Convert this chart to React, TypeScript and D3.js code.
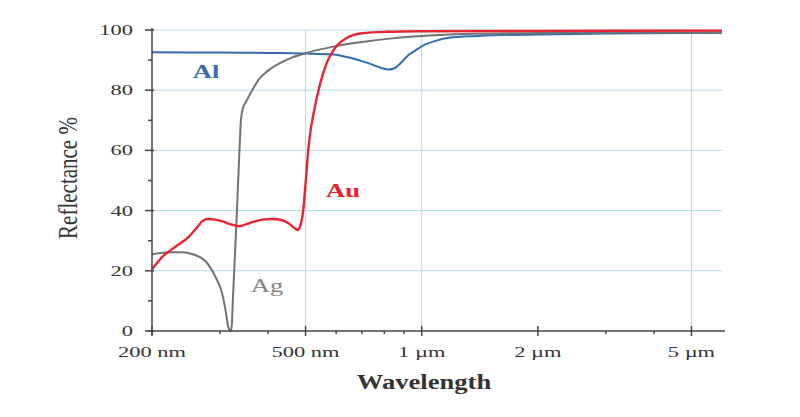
import React from "react";
import * as d3 from "d3";

// reflectance (%) of bare metals vs wavelength (nm)
const agWavelength = [200, 210, 225, 240, 254, 276, 292, 304, 311, 315, 318, 320, 322, 324, 328, 332, 337, 340, 344, 350, 362, 378, 400, 445, 500, 586, 700, 850, 1000, 1300, 2000, 3000, 6000];
const agReflectance = [25.4, 25.9, 26.2, 26.2, 25.6, 23, 18, 12.5, 6, 1.5, 0.2, 0, 2, 10, 25, 40, 60, 70, 74, 76, 79.5, 83.5, 86.5, 90, 92.3, 94.4, 96, 97.3, 98, 98.7, 99, 99.2, 99.2];

const auWavelength = [200, 213, 230, 249, 262, 270, 280, 292, 305, 317, 336, 357, 386, 410, 435, 455, 468, 478, 483, 488, 493, 500, 508, 515, 523, 545, 567, 592, 636, 700, 808, 1000, 2000, 6000];
const auReflectance = [20.5, 24.7, 28, 31.3, 34.5, 36.5, 37.2, 37, 36.4, 35.6, 34.8, 35.8, 37, 37.2, 36.8, 35.5, 34.2, 33.5, 34.5, 36.5, 40, 49, 60, 66.5, 71.5, 82, 89, 93.5, 97.2, 98.9, 99.4, 99.6, 99.7, 99.8];

const alWavelength = [200, 300, 400, 500, 590, 660, 730, 790, 822, 850, 872, 924, 982, 1000, 1088, 1176, 1400, 1586, 2000, 3000, 6000];
const alReflectance = [92.6, 92.5, 92.4, 92.2, 91.9, 90.6, 88.9, 87.3, 86.9, 87.3, 88.4, 91.7, 93.9, 94.6, 96.4, 97.4, 98.0, 98.3, 98.5, 98.8, 99.1];

const xMajorTicks = [200, 500, 1000, 2000, 5000];
const xMajorLabels = ["200 nm", "500 nm", "1 µm", "2 µm", "5 µm"];
const xMinorTicks = [300, 400, 600, 700, 800, 900, 3000, 4000];
const xGridTicks = [500, 1000, 5000];
const yMajorTicks = [0, 20, 40, 60, 80, 100];
const yMinorTicks = [10, 30, 50, 70, 90];

const W = 800;
const H = 417;
const LEFT = 152;
const RIGHT = 722;
const TOP = 30;
const BOTTOM = 331;
const FONT = "'Liberation Serif', 'Times New Roman', serif";
const STRETCH = 1.45; // the reference text is drawn wide

const x = d3.scaleLog().domain([200, 6000]).range([LEFT, RIGHT]);
const y = d3.scaleLinear().domain([0, 100]).range([BOTTOM, TOP]);

const line = d3
  .line<[number, number]>()
  .x((d) => x(d[0]))
  .y((d) => y(d[1]))
  .curve(d3.curveMonotoneX);

const zip = (a: number[], b: number[]) => a.map((v, i) => [v, b[i]] as [number, number]);

const series = [
  { name: "Al", data: zip(alWavelength, alReflectance), color: "#2f6cb3", width: 2 },
  { name: "Ag", data: zip(agWavelength, agReflectance), color: "#727272", width: 2 },
  { name: "Au", data: zip(auWavelength, auReflectance), color: "#ea2330", width: 2.4 },
];

// text that is wider than normal, as in the picture
const WideText = ({ x0, y0, children, size = 15.5, anchor = "middle", fill = "#333", weight = "normal", sx = STRETCH }: any) => (
  <g transform={`translate(${x0},${y0}) scale(${sx},1)`}>
    <text textAnchor={anchor} fontSize={size} fontFamily={FONT} fill={fill} fontWeight={weight}>
      {children}
    </text>
  </g>
);

export default function App() {
  return (
    <svg width={W} height={H} style={{ position: "absolute", left: 0, top: 0, background: "white" }}>
      {/* grid */}
      <g stroke="#acdce8" strokeWidth={1}>
        {yMajorTicks.filter((t) => t > 0).map((t) => (
          <line key={t} x1={LEFT} x2={RIGHT} y1={y(t)} y2={y(t)} />
        ))}
        {xGridTicks.map((t) => (
          <line key={t} x1={x(t)} x2={x(t)} y1={TOP} y2={BOTTOM} />
        ))}
      </g>

      {/* curves */}
      {series.map((s) => (
        <path key={s.name} d={line(s.data) || ""} fill="none" stroke={s.color} strokeWidth={s.width} strokeLinejoin="round" />
      ))}

      {/* axes */}
      <g stroke="#444" strokeWidth={1.5}>
        <line x1={LEFT} x2={LEFT} y1={TOP - 2} y2={BOTTOM + 4} />
        <line x1={LEFT - 4} x2={RIGHT + 3} y1={BOTTOM} y2={BOTTOM} />
        {yMajorTicks.map((t) => (
          <line key={t} x1={LEFT - 7} x2={LEFT + 2} y1={y(t)} y2={y(t)} />
        ))}
        {yMinorTicks.map((t) => (
          <line key={t} x1={LEFT - 4} x2={LEFT} y1={y(t)} y2={y(t)} />
        ))}
        {xMajorTicks.map((t) => (
          <line key={t} x1={x(t)} x2={x(t)} y1={BOTTOM - 5} y2={BOTTOM + 5} />
        ))}
        {xMinorTicks.map((t) => (
          <line key={t} x1={x(t)} x2={x(t)} y1={BOTTOM} y2={BOTTOM + 3} />
        ))}
      </g>

      {/* tick labels */}
      {yMajorTicks.map((t) => (
        <WideText key={t} x0={133} y0={y(t) + 5} anchor="end">
          {t}
        </WideText>
      ))}
      {xMajorTicks.map((t, i) => (
        <WideText key={t} x0={x(t)} y0={357}>
          {xMajorLabels[i]}
        </WideText>
      ))}

      {/* axis titles */}
      <WideText x0={424} y0={389} size={20} weight="bold" sx={1.33}>
        Wavelength
      </WideText>
      <g transform="translate(77,178) rotate(-90) scale(1,1.35)">
        <text textAnchor="middle" fontSize={21} fontFamily={FONT} fill="#333">
          Reflectance %
        </text>
      </g>

      {/* series labels */}
      <WideText x0={206} y0={78} size={19} weight={600} fill="#3a6db0" sx={1.4}>
        Al
      </WideText>
      <WideText x0={343} y0={197} size={19} weight="bold" fill="#e8222e" sx={1.4}>
        Au
      </WideText>
      <WideText x0={267} y0={292} size={19} fill="#858585" sx={1.4}>
        Ag
      </WideText>
    </svg>
  );
}
